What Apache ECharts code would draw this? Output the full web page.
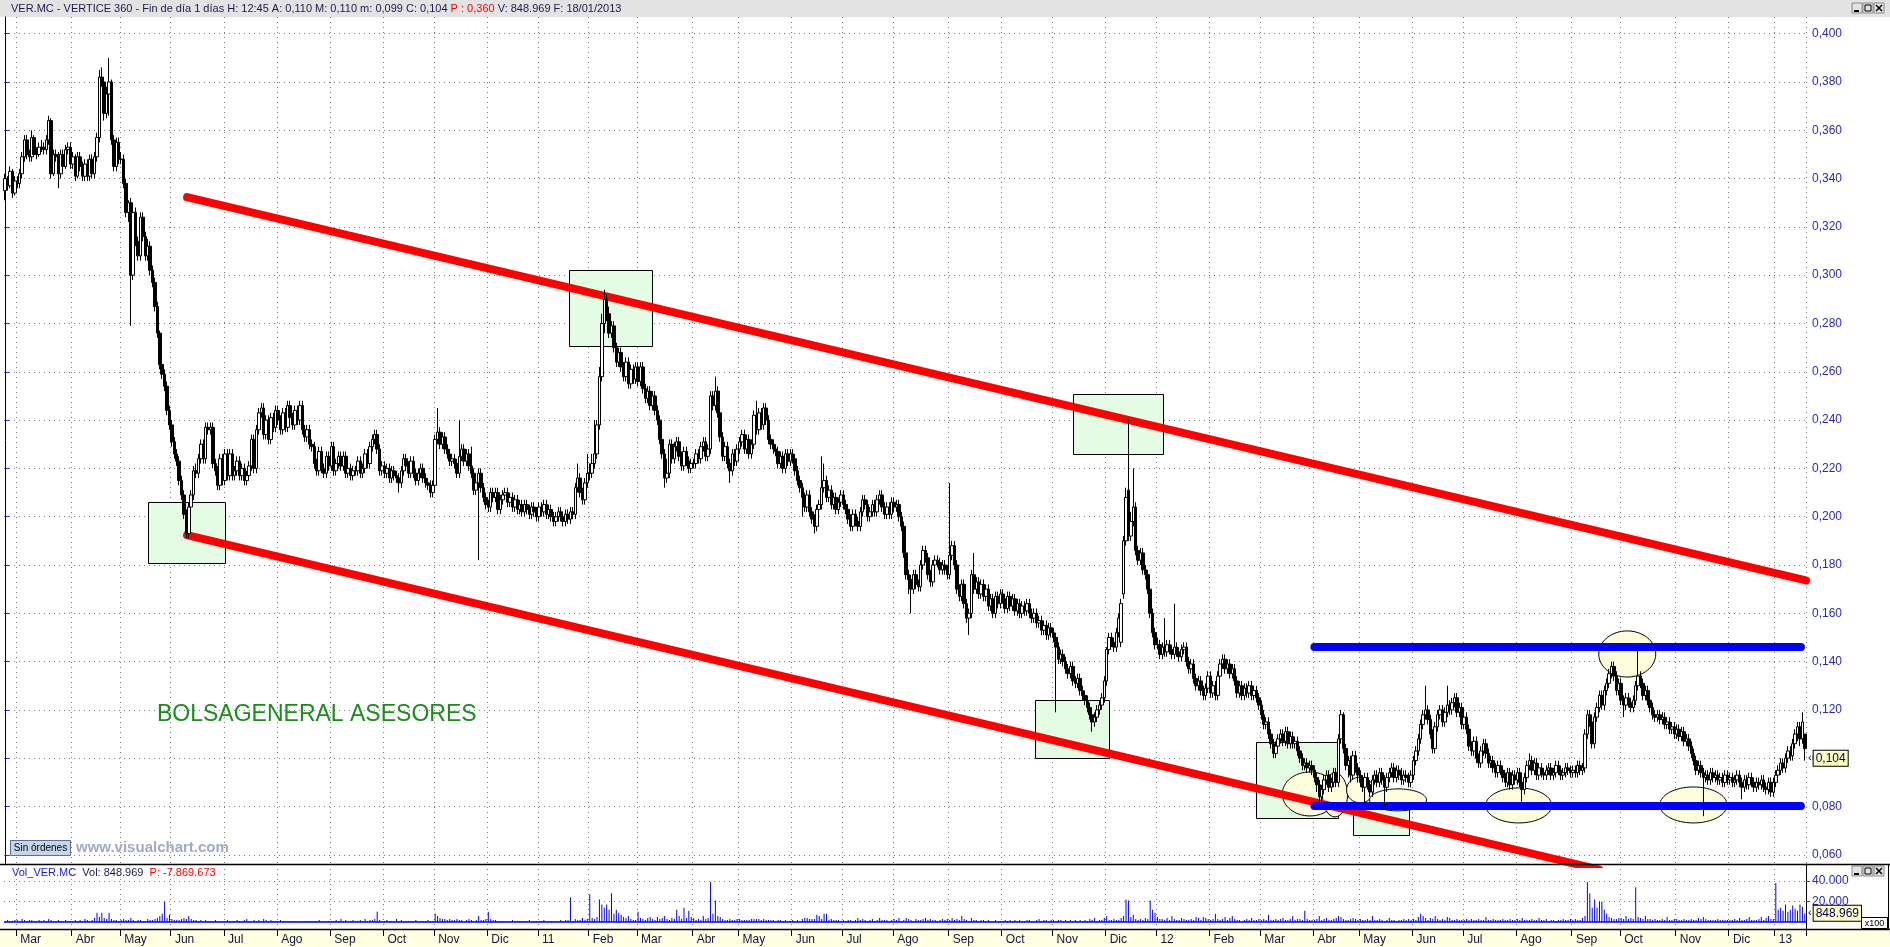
<!DOCTYPE html>
<html>
<head>
<meta charset="utf-8">
<script src="https://cdn.jsdelivr.net/npm/echarts@6/dist/echarts.min.js"></script>
<style>html,body{margin:0;padding:0;background:#fff;}#c{width:1890px;height:947px;}</style>
</head>
<body>
<div id="c"></div>
<script>
// ---------- axis / category data ----------
const monthNames = ['Feb','Mar','Abr','May','Jun','Jul','Ago','Sep','Oct','Nov','Dic',
  '11','Feb','Mar','Abr','May','Jun','Jul','Ago','Sep','Oct','Nov','Dic',
  '12','Feb','Mar','Abr','May','Jun','Jul','Ago','Sep','Oct','Nov','Dic','13'];
const monthDays = [5,23,20,21,22,22,22,22,21,22,21,
  21,20,23,19,22,21,21,23,22,21,22,21,
  22,21,22,19,22,21,22,23,20,23,22,19,13];
const priceTicks = [0.06,0.08,0.10,0.12,0.14,0.16,0.18,0.20,0.22,0.24,0.26,0.28,0.30,0.32,0.34,0.36,0.38,0.40];
const volumeTicks = [20,40];

// ---------- daily OHLC (thousandths of euro) ----------
const opens = [
335,340,337,343,334,
339,338,342,349,356,350,349,357,350,350,353,353,352,356,364,342,350,349,342,350,345,352,353,
346,349,341,349,345,341,346,341,348,342,349,357,382,380,367,375,380,356,345,355,
348,348,338,326,330,300,326,314,308,324,316,308,312,302,297,287,276,263,259,254,244,
238,231,226,223,215,209,201,193,204,209,219,218,224,230,224,237,236,237,222,219,213,224,
215,226,217,226,217,219,223,217,220,215,217,221,232,220,236,243,245,234,240,232,241,237,
244,240,236,243,237,246,241,238,244,240,246,236,233,236,230,229,222,219,227,220,218,225,
221,229,219,222,225,221,225,218,220,217,219,219,223,218,220,226,222,229,232,234,228,219,
221,218,220,216,219,217,216,214,219,224,221,218,223,218,215,218,220,216,214,213,210,
213,232,235,230,233,228,226,223,224,222,218,225,228,223,226,221,218,211,214,218,212,208,
205,204,210,208,210,203,207,209,210,206,208,204,207,203,205,202,205,203,201,204,202,
200,204,202,205,201,203,200,198,200,202,200,198,201,199,202,201,212,216,210,207,214,
218,218,222,226,238,258,280,290,284,276,279,270,264,268,262,258,264,255,261,257,
262,256,262,253,249,252,246,250,244,240,232,226,216,218,230,224,229,231,225,221,227,223,220,
222,222,226,224,229,231,225,228,250,246,252,243,233,225,229,222,219,226,223,
228,231,234,228,232,226,230,242,236,243,238,245,240,232,230,228,227,222,225,220,226,223,
226,224,219,215,212,208,204,209,202,199,196,203,205,212,215,208,211,205,208,203,206,
209,205,203,199,196,201,198,196,202,207,205,200,202,205,202,207,209,204,201,204,201,
206,204,205,200,196,185,176,174,170,176,172,171,180,186,183,176,173,180,182,181,178,180,178,
176,184,188,180,170,167,172,164,158,160,176,170,173,168,172,167,170,163,166,160,167,164,
168,166,162,167,163,166,161,164,160,163,161,164,160,158,160,156,157,153,155,151,154,
152,150,146,141,143,140,137,135,138,132,131,133,128,126,124,121,118,115,117,120,122,125,
132,145,150,148,146,152,148,168,190,211,192,198,204,186,182,185,178,176,170,160,152,
147,147,143,146,144,147,145,143,146,144,142,145,146,140,137,139,133,130,132,128,126,129,
134,127,130,126,134,139,141,137,139,135,137,132,127,130,126,129,127,130,126,128,125,
122,118,114,115,110,106,102,105,108,110,107,111,106,109,106,107,103,100,97,98,96,97,
95,92,89,84,87,91,93,88,90,94,90,108,118,104,97,99,93,101,96,
93,90,88,92,89,86,91,93,90,94,91,88,92,94,96,92,95,93,91,93,92,90,
93,99,103,108,114,118,120,116,110,104,113,118,120,115,119,122,120,123,125,119,121,
114,117,112,105,103,107,100,98,103,106,102,98,99,96,94,97,95,92,90,94,89,93,
91,94,90,87,92,97,99,95,98,93,96,94,93,95,96,93,94,97,95,93,94,96,95,
94,95,94,97,95,96,110,118,115,106,117,121,126,122,128,131,135,138,134,128,
131,124,122,125,123,121,124,130,134,131,126,128,124,121,118,117,118,116,117,114,115,112,113,
110,112,109,111,107,108,105,102,99,95,97,94,92,93,91,94,92,93,91,92,90,93,
91,92,90,91,93,90,88,91,89,92,90,88,90,89,91,88,87,90,86,
90,93,95,98,96,100,103,101,106,110,113,108,110];
const closes = [
340,337,343,334,339,
338,342,349,356,350,349,357,350,350,353,353,352,356,364,342,350,349,342,350,345,352,353,346,
349,341,349,345,341,346,341,348,342,349,357,382,380,367,375,380,356,345,355,348,
348,338,326,330,300,326,314,308,324,316,308,312,302,297,287,276,263,259,254,244,238,
231,226,223,215,209,201,193,204,209,219,218,224,230,224,237,236,237,222,219,213,224,215,
226,217,226,217,219,223,217,220,215,217,221,232,220,236,243,245,234,240,232,241,237,244,
240,236,243,237,246,241,238,244,240,246,236,233,236,230,229,222,219,227,220,218,225,221,
229,219,222,225,221,225,218,220,217,219,219,223,218,220,226,222,229,232,234,228,219,221,
218,220,216,219,217,216,214,219,224,221,218,223,218,215,218,220,216,214,213,210,213,
232,235,230,233,228,226,223,224,222,218,225,228,223,226,221,218,211,214,218,212,208,205,
204,210,208,210,203,207,209,210,206,208,204,207,203,205,202,205,203,201,204,202,200,
204,202,205,201,203,200,198,200,202,200,198,201,199,202,201,212,216,210,207,214,218,
218,222,226,238,258,280,290,284,276,279,270,264,268,262,258,264,255,261,257,262,
256,262,253,249,252,246,250,244,240,232,226,216,218,230,224,229,231,225,221,227,223,220,222,
222,226,224,229,231,225,228,250,246,252,243,233,225,229,222,219,226,223,228,
231,234,228,232,226,230,242,236,243,238,245,240,232,230,228,227,222,225,220,226,223,226,
224,219,215,212,208,204,209,202,199,196,203,205,212,215,208,211,205,208,203,206,209,
205,203,199,196,201,198,196,202,207,205,200,202,205,202,207,209,204,201,204,201,206,
204,205,200,196,185,176,174,170,176,172,171,180,186,183,176,173,180,182,181,178,180,178,176,
184,188,180,170,167,172,164,158,160,176,170,173,168,172,167,170,163,166,160,167,164,168,
166,162,167,163,166,161,164,160,163,161,164,160,158,160,156,157,153,155,151,154,152,
150,146,141,143,140,137,135,138,132,131,133,128,126,124,121,118,115,117,120,122,125,132,
145,150,148,146,152,158,164,190,208,192,198,204,186,182,185,178,176,170,160,152,147,
147,143,146,144,147,145,143,146,144,142,145,146,140,137,139,133,130,132,128,126,129,134,
127,130,126,134,139,141,137,139,135,137,132,127,130,126,129,127,130,126,128,125,122,
118,114,115,110,106,102,105,108,110,107,111,106,109,106,107,103,100,97,98,96,97,95,
92,89,84,87,91,93,88,90,94,90,108,118,104,97,99,93,101,96,93,
90,88,92,89,86,91,93,90,94,91,88,92,94,96,92,95,93,91,93,92,90,93,
99,103,108,114,118,120,116,110,104,113,118,120,115,119,122,120,123,125,119,121,114,
117,112,105,103,107,100,98,103,106,102,98,99,96,94,97,95,92,90,94,89,93,91,
94,90,87,92,97,99,95,98,93,96,94,93,95,96,93,94,97,95,93,94,96,95,94,
95,94,97,95,96,110,118,115,106,117,121,126,122,128,131,135,138,134,128,131,
124,122,125,123,121,124,130,134,131,126,128,124,121,118,117,118,116,117,114,115,112,113,110,
112,109,111,107,108,105,102,99,95,97,94,92,93,91,94,92,93,91,92,90,93,91,
92,90,91,93,90,88,91,89,92,90,88,90,89,91,88,87,90,86,90,
93,95,98,96,100,103,101,106,110,113,108,115,104];
const highs = [
342,341,345,344,341,
341,344,351,358,358,352,360,358,353,355,356,355,358,366,365,352,352,351,352,352,354,355,355,
351,350,351,351,347,348,348,350,350,351,359,385,386,382,378,390,381,358,357,357,
351,350,340,331,332,328,328,316,326,326,318,315,314,304,299,289,277,265,261,256,246,
240,233,228,225,217,211,203,206,211,221,222,226,232,232,239,239,239,239,224,221,226,226,
228,228,228,228,221,225,225,222,222,219,223,234,234,238,245,247,247,242,242,243,243,246,
246,242,245,245,248,248,243,246,246,248,248,238,238,238,232,231,224,229,229,222,227,227,
231,231,224,227,227,227,227,222,222,221,221,225,225,222,228,228,231,234,236,236,230,223,
223,222,222,221,221,219,218,221,226,226,223,225,225,220,220,222,222,218,216,215,215,
234,245,237,235,235,230,228,226,226,224,240,230,230,228,228,229,220,216,220,220,214,210,
207,212,212,212,212,209,211,212,212,210,210,209,209,207,207,207,207,205,206,206,204,
206,206,207,207,205,205,202,202,204,204,202,203,203,204,204,214,222,218,212,216,226,
222,226,240,240,262,284,294,292,287,281,281,272,270,270,264,266,266,263,263,264,
264,264,264,255,254,254,252,252,246,242,234,228,224,232,232,231,233,233,227,229,229,225,224,
224,228,228,231,233,233,230,252,252,258,254,245,235,231,231,224,228,228,230,
233,236,236,234,234,232,244,248,245,245,247,247,242,234,232,230,229,227,227,228,228,228,
228,226,221,217,214,210,211,211,204,201,205,207,225,222,217,213,213,210,210,208,211,
211,207,205,201,203,203,200,204,209,209,207,204,207,207,209,211,211,206,206,206,208,
208,207,207,202,198,187,178,176,178,178,174,182,188,188,185,178,182,184,184,183,182,182,180,
214,190,190,182,172,174,174,166,162,178,185,175,175,174,174,172,172,168,168,169,169,170,
170,168,169,169,168,168,166,166,165,165,166,166,162,162,162,159,159,157,157,156,156,
154,152,148,145,145,142,139,140,140,134,135,135,130,128,126,123,120,119,122,124,127,134,
146,152,152,150,154,160,166,192,212,240,202,220,206,188,187,187,180,178,172,162,154,
150,149,148,158,149,149,147,164,148,146,147,148,148,142,141,141,135,134,134,130,131,136,
136,132,132,136,141,143,143,141,141,139,139,134,132,132,131,131,132,132,130,130,127,
124,120,117,117,112,108,107,110,112,112,113,113,111,111,109,109,105,102,100,100,99,99,
97,94,91,89,93,95,95,92,96,96,110,120,119,106,101,101,103,103,98,
95,93,94,94,91,93,95,95,96,96,93,94,96,98,98,97,97,96,95,95,94,95,
101,105,110,116,120,130,122,118,112,115,120,122,122,121,130,124,125,127,127,123,123,
119,119,114,107,109,109,102,105,108,108,104,101,101,98,99,99,97,94,96,96,95,95,
96,96,92,94,99,102,101,100,100,98,98,96,97,98,98,96,99,99,97,96,98,98,97,
97,97,99,99,98,112,120,120,117,119,123,128,128,130,133,137,140,140,136,133,
133,126,127,127,125,126,132,146,136,133,130,130,126,123,120,120,120,119,119,117,117,115,115,
114,114,113,113,110,110,107,104,101,99,99,96,95,95,96,96,95,95,94,94,95,95,
94,94,93,95,95,92,93,93,94,94,92,92,92,93,93,90,92,92,92,
95,97,100,100,102,105,105,108,112,115,115,119,110];
const lows = [
331,335,336,332,333,
336,336,340,347,348,347,347,349,348,349,351,350,350,354,340,341,347,336,340,343,344,350,344,
344,339,340,343,339,339,339,339,340,340,347,355,378,364,365,366,354,343,343,346,
346,336,324,322,279,298,312,306,306,314,306,306,300,295,285,274,261,257,252,242,236,
229,224,221,213,207,199,191,191,202,207,216,216,222,222,222,234,234,220,217,211,211,213,
213,215,215,215,215,217,215,215,213,213,215,219,218,218,234,241,232,232,230,230,235,235,
238,234,234,235,235,239,236,236,238,238,234,231,231,228,227,220,217,217,218,216,216,219,
219,217,217,220,219,219,216,216,215,215,217,217,216,216,218,220,220,227,230,226,217,217,
216,216,214,214,215,214,210,212,217,219,216,216,216,213,213,216,214,212,211,208,208,
211,230,228,228,226,224,221,221,220,216,216,223,221,221,219,216,209,209,182,210,206,203,
202,202,206,206,201,201,205,207,204,204,202,202,201,201,200,200,201,199,199,200,198,
198,200,200,199,199,198,196,196,198,198,196,196,197,197,199,199,210,208,205,205,212,
215,216,220,224,236,256,276,281,274,274,268,262,262,260,256,256,253,253,255,255,
254,254,251,247,247,244,244,242,238,230,224,212,214,216,222,222,227,223,219,219,221,218,218,
220,220,222,222,227,223,223,226,244,244,241,231,223,223,220,214,217,221,221,
226,229,226,226,224,224,228,234,234,236,236,238,230,228,226,225,220,220,218,218,221,221,
222,217,213,210,200,202,202,200,197,193,194,201,203,210,206,206,203,203,201,201,204,
203,201,197,194,194,196,194,194,200,203,198,198,200,200,200,205,202,199,199,199,199,
202,202,198,194,183,174,168,160,168,170,169,169,178,181,174,171,171,178,179,176,176,176,174,
174,182,178,168,165,165,162,156,151,158,168,168,166,166,165,165,161,161,158,158,162,162,
164,160,160,161,161,159,159,158,158,159,159,158,156,156,154,154,151,151,149,149,150,
148,119,139,139,138,135,133,133,130,129,129,126,124,122,119,116,111,113,115,118,120,123,
130,143,146,144,144,150,146,166,188,190,190,196,184,180,180,176,174,168,158,150,145,
145,141,141,142,142,143,141,141,142,140,140,143,138,135,135,131,128,128,126,124,124,127,
125,125,124,124,132,137,135,135,133,133,130,125,125,124,124,125,125,124,124,123,120,
116,112,112,108,104,100,100,103,106,105,105,104,104,104,104,101,98,95,95,94,94,93,
90,86,80,82,85,89,86,86,88,88,88,106,102,95,92,90,91,94,90,
88,86,81,87,84,84,89,88,88,89,80,86,90,92,90,90,91,89,89,90,88,88,
91,97,101,106,112,116,114,108,102,102,111,116,113,113,117,118,118,121,117,117,112,
112,110,103,101,101,98,96,96,101,100,96,96,94,92,92,93,90,88,88,87,87,89,
89,88,82,85,90,95,93,93,91,91,92,91,91,93,91,91,92,93,91,91,92,93,92,
92,92,92,93,93,94,108,113,104,104,115,119,120,120,126,129,133,132,126,126,
122,117,120,121,119,119,122,128,129,124,124,122,119,116,115,115,114,114,112,112,110,110,108,
108,107,107,105,105,103,100,97,93,93,92,76,90,89,89,90,90,89,89,88,88,89,
89,88,88,89,88,83,86,87,87,88,86,86,87,87,86,85,85,84,84,
88,91,93,94,94,98,99,99,104,107,105,106,99];
// daily volume, in thousands of chart units (x100 shares)
const volumes = [
1,2,1,1,2,
2,1,3,2,1,2,2,1,1,2,1,2,1,3,2,1,1,2,1,1,2,1,1,
1,2,1,2,1,3,2,1,2,4,9,5,9,4,3,9,3,2,2,1,
2,3,2,2,4,2,1,2,2,1,1,3,2,2,3,4,6,8,20,4,7,
3,2,2,2,3,4,3,6,3,2,2,1,2,1,2,1,1,1,2,1,1,1,
1,2,1,1,1,2,1,1,2,3,1,1,2,1,2,1,3,2,1,2,1,1,
1,2,1,1,1,1,1,1,1,1,1,1,1,1,1,1,1,2,1,1,1,1,
1,1,2,1,3,1,2,1,1,2,1,1,2,1,3,1,2,2,3,10,2,1,
1,2,1,1,1,3,1,2,1,1,1,1,1,2,1,1,1,1,2,1,1,
8,6,4,3,3,2,3,2,2,3,2,2,1,2,3,2,1,2,6,2,2,3,
10,3,2,2,1,1,1,1,1,1,2,1,1,1,1,1,1,2,1,1,1,
1,1,2,1,1,1,1,1,1,2,1,2,2,24,1,3,2,2,4,2,3,
27,4,3,5,22,17,14,17,12,28,8,12,9,7,5,4,6,3,2,2,
10,4,3,2,4,5,3,2,5,3,4,6,3,2,4,3,12,6,3,14,4,11,5,
4,2,3,2,6,3,4,39,8,21,6,5,3,2,2,3,2,2,3,
3,2,2,2,2,3,3,3,3,2,3,2,2,2,2,1,2,2,1,2,1,1,
2,1,2,1,3,4,4,3,3,3,7,6,3,8,8,2,3,2,2,2,1,
2,1,2,2,1,2,4,2,3,2,1,2,3,1,2,4,2,2,2,1,2,
3,2,4,1,2,4,3,2,1,3,2,2,3,4,2,3,2,2,1,2,3,2,3,
2,4,2,3,2,6,3,2,1,4,2,2,1,2,2,1,2,1,1,2,1,1,
1,2,1,2,1,2,1,2,1,1,2,2,1,1,2,3,1,2,2,1,2,
2,1,2,2,1,2,1,2,1,2,1,2,1,2,1,3,2,4,1,2,2,4,
6,2,2,3,2,2,4,6,22,21,5,7,3,2,3,2,4,3,21,12,9,
5,3,3,2,4,2,6,3,2,2,4,3,2,2,3,2,5,4,2,5,4,3,
2,3,8,3,2,3,5,2,4,6,3,2,2,1,2,3,2,4,2,2,3,
2,3,2,7,2,2,3,2,3,4,2,2,3,6,2,3,3,2,11,3,2,2,
2,3,6,2,3,4,2,2,3,4,6,5,3,2,2,3,4,3,2,
3,2,2,3,2,6,2,2,3,2,1,2,4,2,2,1,2,2,3,2,3,2,
3,2,5,8,6,4,2,4,3,6,3,2,3,2,5,4,2,2,3,2,2,
2,3,2,3,2,2,3,2,2,5,2,2,3,2,2,2,3,2,2,3,2,2,
3,2,4,2,2,2,3,2,2,4,2,2,3,1,2,2,1,2,2,3,2,2,3,
2,3,2,2,4,6,39,28,14,22,14,20,20,12,8,5,4,3,3,4,
4,3,6,3,4,3,34,5,4,3,6,3,3,2,3,2,2,3,2,5,2,2,3,
3,2,2,3,2,2,3,2,2,4,3,5,3,2,2,2,2,3,2,2,2,2,
2,2,3,2,4,2,2,3,5,2,2,2,3,5,2,4,6,3,3,
38,12,14,11,17,10,12,16,13,11,17,15,8.49];

// ---------- drawn annotations (trading-day index, price) ----------
const channelUpper = [[75.3, 0.3323], [745.5, 0.1736]];
const channelLower = [[75.3, 0.1924], [660, 0.0539]];
const rangeTop = [[542, 0.146], [743.4, 0.146]];
const rangeBottom = [[542, 0.0802], [743.4, 0.0802]];
// [dayFrom, dayTo, priceTop, priceBottom]
const boxes = [
  [59.2, 91.1, 0.2061, 0.1808],
  [233.2, 267.6, 0.3021, 0.2707],
  [442.1, 479.4, 0.2508, 0.2260],
  [426.4, 457.0, 0.1241, 0.1001],
  [518.0, 552.0, 0.1067, 0.0753],
  [557.8, 581.0, 0.0815, 0.0682]];
const ellipses = [
  [528.7, 551.5, 0.0943, 0.0761],
  [545.3, 555.7, 0.0939, 0.0757],
  [555.3, 566.5, 0.0922, 0.0815],
  [564.8, 588.4, 0.0873, 0.0782],
  [612.9, 640.2, 0.0877, 0.0732],
  [659.7, 683.3, 0.1527, 0.1336],
  [685.0, 712.8, 0.0881, 0.0732]];
const lastClose = 0.104, lastCloseText = '0,104';
const lastVolume = 8.49, lastVolumeText = '848.969';

// ---------- build ----------
const categories = [];
const monthStart = {};
let n = 0;
monthNames.forEach((m, k) => {
  if (k > 0) monthStart[n] = m;
  for (let d = 0; d < monthDays[k]; d++) { categories.push(k + '-' + (d + 1)); n++; }
});
const N = categories.length;
[opens, closes, highs, lows, volumes].forEach((a, j) => { if (a.length !== N) console.error('length mismatch', j, a.length, N); });
const candles = closes.map((c, i) => {
  const o = opens[i];
  const h = Math.max(highs[i], o, c), l = Math.min(lows[i], o, c);
  return [o / 1000, c / 1000, l / 1000, h / 1000];
});
const isMonth = (i) => monthStart[i] !== undefined;
const FONT = 'Liberation Sans, Arial, sans-serif';
const dotted = { color: '#7a7a7a', width: 1, type: [1, 4] };
const valueBox = (text) => ({
  show: true, position: 'end', distance: 2, opacity: 1,
  formatter: '{a|‹}{b|' + text + '}',
  rich: { a: { color: '#000', fontSize: 11, padding: [0, 2, 0, 0], fontFamily: FONT },
          b: { color: '#000060', fontSize: 12, fontFamily: FONT, backgroundColor: '#ffffc4', borderColor: '#000', borderWidth: 1, padding: [2, 2, 1, 2] } }
});

const chart = echarts.init(document.getElementById('c'), null, { renderer: 'canvas' });
chart.setOption({
  animation: false,
  backgroundColor: '#ffffff',
  grid: [
    { left: 4, right: 84, top: 17, height: 847 },
    { left: 4, right: 84, top: 864, height: 65 }
  ],
  xAxis: [
    { type: 'category', gridIndex: 0, data: categories, boundaryGap: true,
      axisLine: { show: false }, axisTick: { show: false }, axisLabel: { show: false },
      splitLine: { show: true, interval: (i) => isMonth(i), lineStyle: dotted } },
    { type: 'category', gridIndex: 1, data: categories, boundaryGap: true,
      axisLine: { show: true, onZero: false, lineStyle: { color: '#000', width: 1 } },
      axisTick: { show: true, interval: (i) => isMonth(i), length: 7, lineStyle: { color: '#000' } },
      axisLabel: { show: true, interval: (i) => isMonth(i), formatter: (v, i) => monthStart[i] || '',
        align: 'left', padding: [0, 0, 0, 3], margin: 5, fontSize: 12, color: '#14143c', fontFamily: FONT },
      splitLine: { show: true, interval: (i) => isMonth(i), lineStyle: dotted } },
    { type: 'value', gridIndex: 0, min: -0.5, max: N - 0.5, show: false }
  ],
  yAxis: [
    { type: 'value', gridIndex: 0, position: 'right', min: 0.0562, max: 0.4069, scale: true,
      axisLine: { show: true, lineStyle: { color: '#000', width: 1 } },
      axisTick: { show: true, customValues: priceTicks, length: 4, lineStyle: { color: '#2a2ab8' } },
      axisLabel: { show: true, customValues: priceTicks, margin: 6, fontSize: 12, color: '#2a2ab8', fontFamily: FONT,
        formatter: (v) => v.toFixed(3).replace('.', ',') },
      splitLine: { show: true, lineStyle: dotted } },
    { type: 'value', gridIndex: 1, position: 'right', min: -6.8, max: 56.6,
      axisLine: { show: true, lineStyle: { color: '#000', width: 1 } },
      axisTick: { show: true, customValues: volumeTicks, length: 4, lineStyle: { color: '#2a2ab8' } },
      axisLabel: { show: true, customValues: volumeTicks, margin: 6, fontSize: 12, color: '#2a2ab8', fontFamily: FONT,
        formatter: (v) => v + '.000' },
      splitLine: { show: true, lineStyle: dotted } }
  ],
  series: [
    { type: 'custom', name: 'boxes', xAxisIndex: 2, yAxisIndex: 0, z: 1, silent: true,
      data: boxes,
      encode: { x: [0, 1], y: [2, 3] },
      renderItem: (params, api) => {
        const p0 = api.coord([api.value(0), api.value(2)]);
        const p1 = api.coord([api.value(1), api.value(3)]);
        return { type: 'rect',
          shape: { x: Math.round(p0[0]) + 0.5, y: Math.round(p0[1]) + 0.5, width: Math.round(p1[0] - p0[0]), height: Math.round(p1[1] - p0[1]) },
          style: { fill: '#e4fbe4', stroke: '#000', lineWidth: 1 } };
      } },
    { type: 'custom', name: 'ellipses', xAxisIndex: 2, yAxisIndex: 0, z: 2, silent: true,
      data: ellipses,
      encode: { x: [0, 1], y: [2, 3] },
      renderItem: (params, api) => {
        const p0 = api.coord([api.value(0), api.value(2)]);
        const p1 = api.coord([api.value(1), api.value(3)]);
        return { type: 'ellipse',
          shape: { cx: (p0[0] + p1[0]) / 2, cy: (p0[1] + p1[1]) / 2, rx: Math.abs(p1[0] - p0[0]) / 2, ry: Math.abs(p1[1] - p0[1]) / 2 },
          style: { fill: '#fffedc', stroke: '#000', lineWidth: 1 } };
      } },
    { type: 'line', xAxisIndex: 2, yAxisIndex: 0, z: 3, silent: true, symbol: 'none', clip: true,
      data: channelUpper, lineStyle: { color: '#ff0000', width: 8, cap: 'round' } },
    { type: 'line', xAxisIndex: 2, yAxisIndex: 0, z: 3, silent: true, symbol: 'none', clip: true,
      data: channelLower, lineStyle: { color: '#ff0000', width: 8, cap: 'round' } },
    { type: 'line', xAxisIndex: 2, yAxisIndex: 0, z: 3, silent: true, symbol: 'none', clip: true,
      data: rangeTop, lineStyle: { color: '#0000ff', width: 8, cap: 'round' } },
    { type: 'line', xAxisIndex: 2, yAxisIndex: 0, z: 3, silent: true, symbol: 'none', clip: true,
      data: rangeBottom, lineStyle: { color: '#0000ff', width: 8, cap: 'round' } },
    { type: 'candlestick', name: 'VER.MC', xAxisIndex: 0, yAxisIndex: 0, z: 4, large: false,
      barWidth: 3, data: candles,
      itemStyle: { color: '#ffffff', color0: '#000000', borderColor: '#000000', borderColor0: '#000000', borderWidth: 1 },
      markLine: { silent: true, symbol: ['none', 'none'], animation: false,
        lineStyle: { color: 'rgba(0,0,0,0)', width: 0 },
        data: [{ yAxis: lastClose }],
        label: valueBox(lastCloseText) } },
    { type: 'bar', name: 'Vol', xAxisIndex: 1, yAxisIndex: 1, z: 4, large: false,
      barWidth: 1, data: volumes, itemStyle: { color: '#0000ff' },
      markLine: { silent: true, symbol: ['none', 'none'], animation: false,
        lineStyle: { color: 'rgba(0,0,0,0)', width: 0 },
        label: { show: false },
        data: [
          { yAxis: 0, lineStyle: { color: '#0000ff', width: 1.5, type: 'solid' }, label: { show: false } },
          { yAxis: lastVolume, label: valueBox(lastVolumeText) }
        ] } }
  ],
  graphic: [
    { type: 'rect', z: -10, shape: { x: 0, y: 0, width: 1890, height: 17 }, style: { fill: '#e3e3e3' } },
    { type: 'text', z: 10, x: 11, y: 9,
      style: { text: '{a|VER.MC - VERTICE 360 - Fin de día 1 días H: 12:45 A: 0,110 M: 0,110 m: 0,099 C: 0,104} {r|P : 0,360} {a|V: 848.969 F: 18/01/2013}',
        verticalAlign: 'middle', font: '11px ' + FONT,
        rich: { a: { fill: '#1a1a50', fontSize: 11, fontFamily: FONT }, r: { fill: '#ff0000', fontSize: 11, fontFamily: FONT } } } },
    // window buttons (main pane)
    { type: 'group', x: 1852, y: 3, z: 10, children: [
      { type: 'rect', shape: { x: 0, y: 0, width: 10, height: 10 }, style: { fill: '#e3e3e3', stroke: '#888' } },
      { type: 'rect', shape: { x: 11, y: 0, width: 10, height: 10 }, style: { fill: '#e3e3e3', stroke: '#888' } },
      { type: 'rect', shape: { x: 22, y: 0, width: 10, height: 10 }, style: { fill: '#e3e3e3', stroke: '#888' } },
      { type: 'line', shape: { x1: 2, y1: 8, x2: 7, y2: 8 }, style: { stroke: '#000', lineWidth: 2 } },
      { type: 'rect', shape: { x: 13, y: 2, width: 6, height: 6 }, style: { fill: 'none', stroke: '#000', lineWidth: 1 } },
      { type: 'line', shape: { x1: 24, y1: 2, x2: 30, y2: 8 }, style: { stroke: '#000', lineWidth: 1.5 } },
      { type: 'line', shape: { x1: 30, y1: 2, x2: 24, y2: 8 }, style: { stroke: '#000', lineWidth: 1.5 } }
    ] },
    // window buttons (volume pane)
    { type: 'group', x: 1852, y: 866, z: 10, children: [
      { type: 'rect', shape: { x: 0, y: 0, width: 10, height: 10 }, style: { fill: '#e3e3e3', stroke: '#888' } },
      { type: 'rect', shape: { x: 11, y: 0, width: 10, height: 10 }, style: { fill: '#e3e3e3', stroke: '#888' } },
      { type: 'rect', shape: { x: 22, y: 0, width: 10, height: 10 }, style: { fill: '#e3e3e3', stroke: '#888' } },
      { type: 'line', shape: { x1: 2, y1: 8, x2: 7, y2: 8 }, style: { stroke: '#000', lineWidth: 2 } },
      { type: 'rect', shape: { x: 13, y: 2, width: 6, height: 6 }, style: { fill: 'none', stroke: '#000', lineWidth: 1 } },
      { type: 'line', shape: { x1: 24, y1: 2, x2: 30, y2: 8 }, style: { stroke: '#000', lineWidth: 1.5 } },
      { type: 'line', shape: { x1: 30, y1: 2, x2: 24, y2: 8 }, style: { stroke: '#000', lineWidth: 1.5 } }
    ] },
    // pane separators
    { type: 'line', z: 10, shape: { x1: 0, y1: 864.5, x2: 1890, y2: 864.5 }, style: { stroke: '#000', lineWidth: 1.5 } },
    { type: 'rect', z: -10, shape: { x: 0, y: 929, width: 1890, height: 18 }, style: { fill: '#ffffe1' } },
    { type: 'line', z: 10, shape: { x1: 0, y1: 929.5, x2: 1890, y2: 929.5 }, style: { stroke: '#000', lineWidth: 1.5 } },
    { type: 'line', z: 10, shape: { x1: 1888.5, y1: 864, x2: 1888.5, y2: 929 }, style: { stroke: '#000', lineWidth: 1 } },
    // volume pane caption
    { type: 'text', z: 10, x: 12, y: 873,
      style: { text: '{b|Vol_VER.MC}  {a|Vol: 848.969}  {r|P: -7.869.673}', verticalAlign: 'middle', font: '11px ' + FONT,
        rich: { b: { fill: '#2020d0', fontSize: 11, fontFamily: FONT }, a: { fill: '#1a1a50', fontSize: 11, fontFamily: FONT }, r: { fill: '#ff0000', fontSize: 11, fontFamily: FONT } } } },
    // x100 box
    { type: 'rect', z: 10, shape: { x: 1861.5, y: 917.5, width: 26, height: 11 }, style: { fill: '#fff', stroke: '#000', lineWidth: 1 } },
    { type: 'text', z: 11, x: 1874.5, y: 923.5, style: { text: 'x100', fill: '#000', font: '9px ' + FONT, align: 'center', verticalAlign: 'middle' } },
    // watermark & button
    { type: 'rect', z: 10, shape: { x: 10.5, y: 840.5, width: 60, height: 15 }, style: { fill: '#c7d5ea', stroke: '#5d6f99', lineWidth: 1 } },
    { type: 'text', z: 11, x: 40.5, y: 848, style: { text: 'Sin órdenes', fill: '#000', font: '10px ' + FONT, align: 'center', verticalAlign: 'middle' } },
    { type: 'text', z: 10, x: 76, y: 848, style: { text: 'www.visualchart.com', fill: '#a2a8c8', font: 'bold 15px ' + FONT, verticalAlign: 'middle' } },
    // author caption
    { type: 'text', z: 10, x: 157, y: 715, style: { text: 'BOLSAGENERAL ASESORES', fill: '#1c8c1c', font: '23px ' + FONT, verticalAlign: 'middle' } }
  ]
});
</script>
</body>
</html>
